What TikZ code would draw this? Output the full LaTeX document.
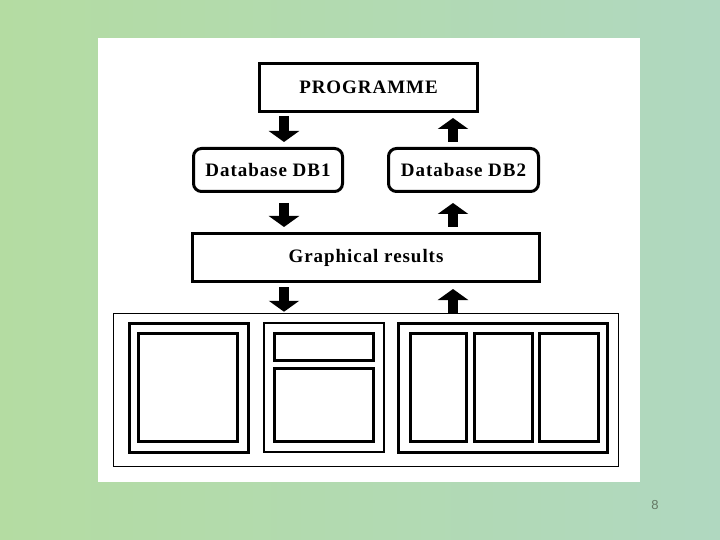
\documentclass[tikz,border=0pt]{standalone}
\usepackage{fontspec}
\setmainfont{Liberation Serif}
\newfontfamily\labelfont[LetterSpace=5]{Liberation Serif}
\newfontfamily\numfont{Liberation Sans}
\usetikzlibrary{arrows.meta,calc}
\definecolor{bgA}{RGB}{180,220,162}
\definecolor{bgB}{RGB}{176,216,192}
\definecolor{pagenum}{RGB}{100,120,100}
\begin{document}
\begin{tikzpicture}[x=1pt,y=-1pt,
  box/.style={draw, line width=3pt, inner sep=0pt, font=\labelfont\bfseries\fontsize{19}{22}\selectfont},
  rbox/.style={box, rounded corners=8pt},
  panel/.style={draw, line width=3pt, inner sep=0pt},
  thinframe/.style={draw, line width=1.5pt, inner sep=0pt},
  barrow/.style={line width=10pt, -{Triangle[width=30pt,length=11pt]}}]
\useasboundingbox (0,0) rectangle (720,540);
\shade[left color=bgA, right color=bgB] (0,0) rectangle (720,540);
\fill[white] (98,38) rectangle (640,482);

\node[box, minimum width=218pt, minimum height=48pt] (prog) at (368.5,87.5) {PROGRAMME};
\node[rbox, minimum width=149pt, minimum height=43pt] (db1) at (268,170) {Database DB1};
\node[rbox, minimum width=150pt, minimum height=43pt] (db2) at (463.5,170) {Database DB2};
\node[box, minimum width=347pt, minimum height=48pt] (gr) at (366,257.5) {Graphical results};

\node[thinframe, minimum width=505pt, minimum height=153pt] (frame) at (366,390) {};
\node[panel, minimum width=119pt, minimum height=129pt] (p1) at (189,388) {};
\node[panel, minimum width=99pt, minimum height=108pt] (p1in) at (188,387.5) {};
\node[panel, line width=2pt, minimum width=120pt, minimum height=129pt] (p2) at (324,387.5) {};
\node[panel, minimum width=99pt, minimum height=27pt] (p2top) at (324,347) {};
\node[panel, minimum width=99pt, minimum height=73pt] (p2bot) at (324,405) {};
\node[panel, minimum width=209pt, minimum height=129pt] (p3) at (503,388) {};
\node[panel, minimum width=56pt, minimum height=108pt] (p3a) at (438.5,387.5) {};
\node[panel, minimum width=58pt, minimum height=108pt] (p3b) at (503.5,387.5) {};
\node[panel, minimum width=59pt, minimum height=108pt] (p3c) at (569,387.5) {};

\coordinate (dn) at (284,0);
\coordinate (up) at (453,0);
\draw[barrow] ($(dn |- prog.south)+(0,3)$) -- ($(dn |- db1.north)+(0,-5)$);
\draw[barrow] ($(up |- db2.north)+(0,-5)$) -- ($(up |- prog.south)+(0,5)$);
\draw[barrow] ($(dn |- db1.south)+(0,10)$) -- ($(dn |- gr.north)+(0,-5)$);
\draw[barrow] ($(up |- gr.north)+(0,-5)$) -- ($(up |- db2.south)+(0,10)$);
\draw[barrow] ($(dn |- gr.south)+(0,4)$) -- ($(dn |- frame.north)+(0,-1)$);
\draw[barrow] (up |- frame.north) -- ($(up |- gr.south)+(0,6)$);

\node[text=pagenum, font=\numfont\fontsize{13}{15}\selectfont] (pn) at (655,505) {8};
\end{tikzpicture}
\end{document}
